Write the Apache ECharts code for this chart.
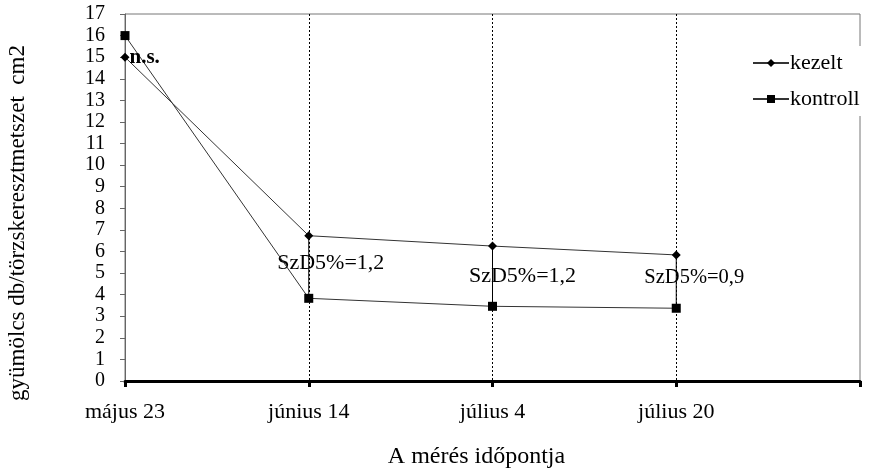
<!DOCTYPE html>
<html><head><meta charset="utf-8">
<script src="https://cdn.jsdelivr.net/npm/echarts@6/dist/echarts.min.js"></script>
<style>html,body{margin:0;padding:0;background:#fff}#c{width:875px;height:472px}</style>
</head><body><div id="c"></div>
<script>
const categories = ['május 23', 'június 14', 'július 4', 'július 20', ''];
const kezelt = [15, 6.73, 6.25, 5.84];
const kontroll = [16, 3.83, 3.46, 3.37];
const lsdLabels = ['', '1,2', '1,2', '0,9'];
const nsLabel = 'n.s.';
const yTicks = {min: 0, max: 17, interval: 1};

const F = 'Liberation Serif';
const chart = echarts.init(document.getElementById('c'));

const diffData = kezelt.map((v, i) => [i, v, kontroll[i]]);
const lsdOffsets = [null, [22, 28], [30, 30], [18, 23]];
const lsdSizes = [0, 22, 22, 20.5];

chart.setOption({
  animation: false,
  textStyle: {fontFamily: F, color: '#000'},
  grid: {left: 125, right: 15, top: 14, bottom: 91, outerBoundsMode: 'none', containLabel: false,
    show: true, borderColor: '#777', borderWidth: 1, backgroundColor: 'transparent'},
  legend: {
    left: 748, top: 46, orient: 'vertical', backgroundColor: '#fff',
    padding: [6, 8, 6, 4], itemGap: 14, itemWidth: 36, itemHeight: 10,
    textStyle: {fontFamily: F, fontSize: 22, color: '#000', padding: [0, 0, 0, -4]},
    data: ['kezelt', 'kontroll']
  },
  xAxis: {
    type: 'category', data: categories, boundaryGap: false,
    name: 'A mérés időpontja', nameLocation: 'middle', nameGap: 64,
    nameTextStyle: {fontFamily: F, fontSize: 24, color: '#000', padding: [0, 32, 0, 0]},
    axisLine: {lineStyle: {color: '#000', width: 3}},
    axisTick: {show: true, length: 6, lineStyle: {color: '#000', width: 3}},
    axisLabel: {fontFamily: F, fontSize: 22, color: '#000', margin: 20},
    splitLine: {show: true, interval: (i) => i >= 1 && i <= 3, lineStyle: {color: '#000', type: [2, 2], width: 1}}
  },
  yAxis: {
    type: 'value', min: yTicks.min, max: yTicks.max, interval: yTicks.interval,
    name: 'gyümölcs db/törzskeresztmetszet  cm2', nameLocation: 'middle', nameGap: 96,
    nameTextStyle: {fontFamily: F, fontSize: 23, color: '#000', padding: [0, 51, 0, 0]},
    axisLine: {show: true, lineStyle: {color: '#666', width: 1}},
    axisTick: {show: true, length: 5, lineStyle: {color: '#666'}},
    axisLabel: {fontFamily: F, fontSize: 20, color: '#000', margin: 20},
    splitLine: {show: false}
  },
  series: [
    {
      name: 'kezelt', type: 'line', data: kezelt, symbol: 'diamond', symbolSize: 9,
      itemStyle: {color: '#000'}, lineStyle: {color: '#333', width: 1},
      label: {show: true, formatter: (p) => p.dataIndex === 0 ? nsLabel : '', position: 'right', offset: [-5, 0],
        fontFamily: F, fontSize: 21, fontWeight: 'bold', color: '#000'},
      z: 3
    },
    {
      name: 'kontroll', type: 'line', data: kontroll, symbol: 'rect', symbolSize: 9,
      itemStyle: {color: '#000'}, lineStyle: {color: '#333', width: 1}, z: 3
    },
    {
      type: 'custom', data: diffData, z: 2, silent: true,
      renderItem: (params, api) => {
        const i = api.value(0);
        if (!lsdLabels[i]) return null;
        const a = api.coord([i, api.value(1)]);
        const b = api.coord([i, api.value(2)]);
        const off = lsdOffsets[i];
        return {
          type: 'group', children: [
            {type: 'line', shape: {x1: a[0], y1: a[1], x2: b[0], y2: b[1]}, style: {stroke: '#000', lineWidth: 1}},
            {type: 'text', x: a[0] + off[0], y: a[1] + off[1], style: {
              text: 'SzD5%=' + lsdLabels[i], align: 'center', verticalAlign: 'middle',
              fontFamily: F, fontSize: lsdSizes[i], fill: '#000'
            }}
          ]
        };
      }
    }
  ]
});
</script></body></html>
